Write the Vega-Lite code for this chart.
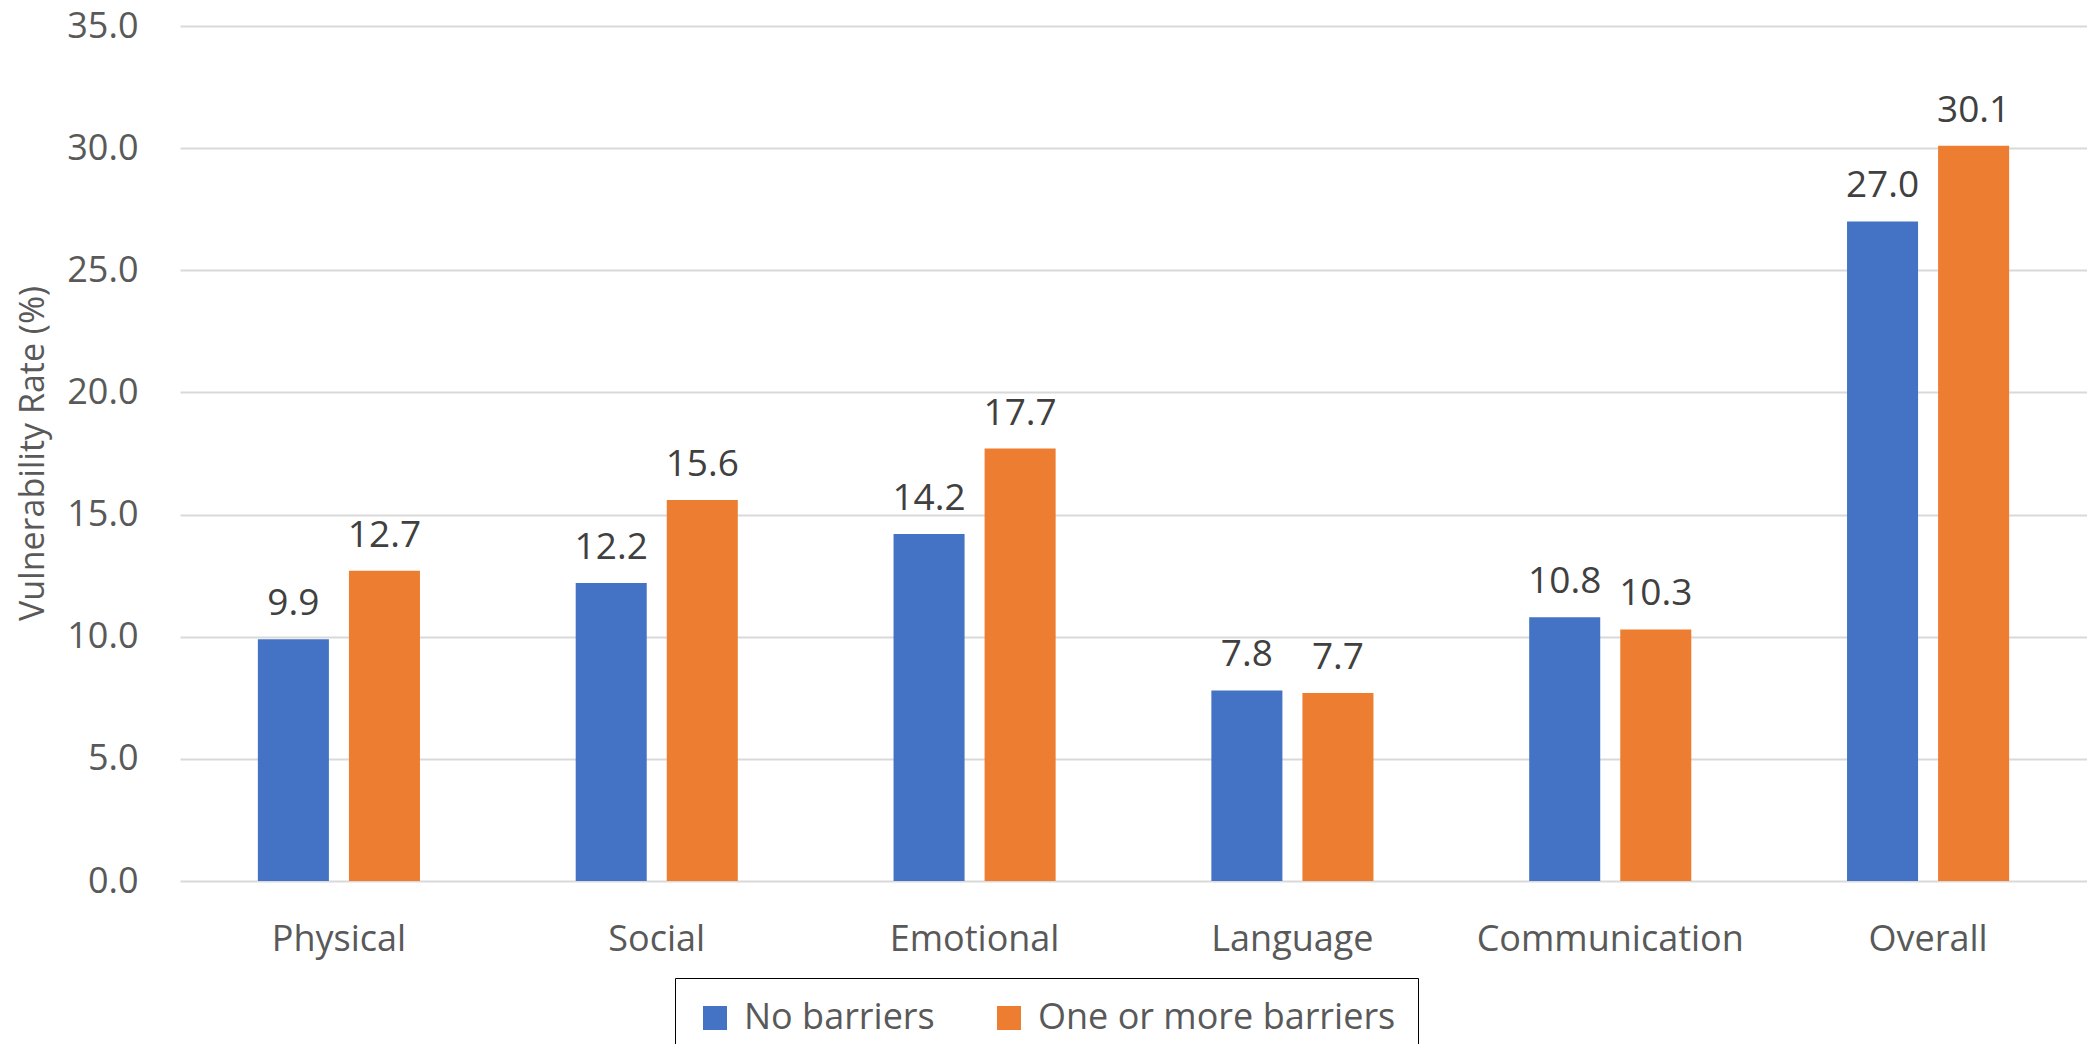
{
  "$schema": "https://vega.github.io/schema/vega-lite/v6.json",
  "autosize": "none",
  "width": 1907,
  "height": 855,
  "padding": {"left": 180, "top": 26, "right": 0, "bottom": 163},
  "background": "white",
  "config": {
    "font": "Open Sans",
    "view": {"stroke": null}
  },
  "data": {
    "values": [
      {"domain": "Physical", "group": "No barriers", "rate": 9.9},
      {"domain": "Physical", "group": "One or more barriers", "rate": 12.7},
      {"domain": "Social", "group": "No barriers", "rate": 12.2},
      {"domain": "Social", "group": "One or more barriers", "rate": 15.6},
      {"domain": "Emotional", "group": "No barriers", "rate": 14.2},
      {"domain": "Emotional", "group": "One or more barriers", "rate": 17.7},
      {"domain": "Language", "group": "No barriers", "rate": 7.8},
      {"domain": "Language", "group": "One or more barriers", "rate": 7.7},
      {"domain": "Communication", "group": "No barriers", "rate": 10.8},
      {"domain": "Communication", "group": "One or more barriers", "rate": 10.3},
      {"domain": "Overall", "group": "No barriers", "rate": 27.0},
      {"domain": "Overall", "group": "One or more barriers", "rate": 30.1}
    ]
  },
  "encoding": {
    "x": {
      "field": "domain",
      "type": "nominal",
      "sort": null,
      "scale": {"paddingInner": 0.49, "paddingOuter": 0.245},
      "axis": {
        "title": null,
        "labelAngle": 0,
        "labelFont": "Open Sans",
        "labelFontSize": 36,
        "labelColor": "#595959",
        "labelBaseline": "alphabetic",
        "labelPadding": 69,
        "labelLimit": 500,
        "ticks": false,
        "tickSize": 0,
        "domain": false
      }
    },
    "xOffset": {
      "field": "group",
      "type": "nominal",
      "scale": {"paddingInner": 0.22, "paddingOuter": 0}
    },
    "y": {
      "field": "rate",
      "type": "quantitative",
      "scale": {"domain": [0, 35], "nice": false},
      "axis": {
        "title": "Vulnerability Rate (%)",
        "titleFont": "Open Sans",
        "titleFontSize": 34,
        "titleFontWeight": "normal",
        "titleColor": "#595959",
        "titleAngle": -90,
        "titleX": -137,
        "titleY": 427,
        "titleBaseline": "alphabetic",
        "titleAlign": "center",
        "values": [0, 5, 10, 15, 20, 25, 30, 35],
        "format": ".1f",
        "labelFont": "Open Sans",
        "labelFontSize": 36,
        "labelColor": "#595959",
        "labelPadding": 42,
        "ticks": false,
        "tickSize": 0,
        "domain": false,
        "grid": true,
        "gridColor": "#d9d9d9",
        "gridWidth": 2
      }
    }
  },
  "layer": [
    {
      "mark": {"type": "bar"},
      "encoding": {
        "color": {
          "field": "group",
          "type": "nominal",
          "scale": {"domain": ["No barriers", "One or more barriers"], "range": ["#4472C4", "#ED7D31"]},
          "legend": {
            "title": null,
            "orient": "none",
            "direction": "horizontal",
            "legendX": 495,
            "legendY": 952,
            "padding": 22,
            "strokeColor": "#000000",
            "symbolType": "square",
            "symbolSize": 576,
            "symbolStrokeWidth": 0,
            "labelFont": "Open Sans",
            "labelFontSize": 36,
            "labelColor": "#595959",
            "labelOffset": 11,
            "columnPadding": 56,
            "labelLimit": 600
          }
        }
      }
    },
    {
      "mark": {
        "type": "text",
        "baseline": "alphabetic",
        "dy": -24,
        "font": "Open Sans",
        "fontSize": 37,
        "color": "#404040"
      },
      "encoding": {
        "text": {"field": "rate", "type": "quantitative", "format": ".1f"}
      }
    }
  ]
}
